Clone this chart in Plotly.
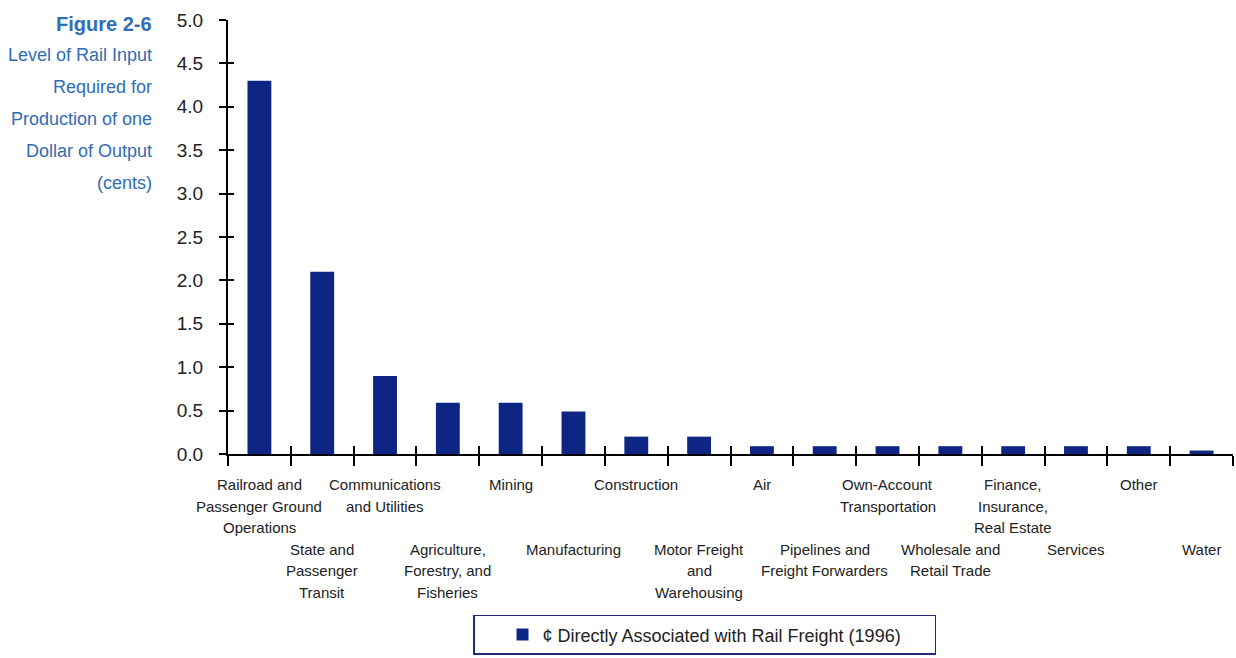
import plotly.graph_objects as go

# Sector labels (line breaks as printed under the axis)
categories = [
    "Railroad and\nPassenger Ground\nOperations",
    "State and\nPassenger\nTransit",
    "Communications\nand Utilities",
    "Agriculture,\nForestry, and\nFisheries",
    "Mining",
    "Manufacturing",
    "Construction",
    "Motor Freight\nand\nWarehousing",
    "Air",
    "Pipelines and\nFreight Forwarders",
    "Own-Account\nTransportation",
    "Wholesale and\nRetail Trade",
    "Finance,\nInsurance,\nReal Estate",
    "Services",
    "Other",
    "Water",
]
# Cents of rail input per dollar of output (1996)
cents = [4.3, 2.1, 0.9, 0.59, 0.59, 0.49, 0.2, 0.2,
         0.09, 0.09, 0.09, 0.09, 0.09, 0.09, 0.09, 0.04]
y_ticks = [0.0, 0.5, 1.0, 1.5, 2.0, 2.5, 3.0, 3.5, 4.0, 4.5, 5.0]
series_name = "¢ Directly Associated with Rail Freight (1996)"
title_lines = ["Level of Rail Input", "Required for", "Production of one",
               "Dollar of Output", "(cents)"]
figure_label = "Figure 2-6"

W, H = 1236, 658
M_L, M_R, M_T, M_B = 228, 3, 20, 201
PLOT_H = H - M_T - M_B
PLOT_W = W - M_L - M_R

BAR_COLOR = "#0f2583"
TITLE_BLUE = "#2f6db5"
TEXT = "#222222"
SANS = "Liberation Sans, Arial, sans-serif"


def paper_y(py):
    return (H - M_B - py) / PLOT_H


def paper_x(px):
    return (px - M_L) / PLOT_W


n = len(categories)
idx = list(range(n))
short = [c.replace("\n", " ") for c in categories]

fig = go.Figure()
fig.add_trace(go.Bar(
    x=short, y=cents, name=series_name,
    marker=dict(color=BAR_COLOR, line=dict(width=0)),
    showlegend=True,
))
# companion trace that carries the inner tick marks of the overlay axes
fig.add_trace(go.Scatter(
    x=idx, y=cents, xaxis="x2", yaxis="y2", mode="markers",
    marker=dict(opacity=0), showlegend=False, hoverinfo="skip",
))

annotations = []
# Category labels in two staggered rows
for i, label in enumerate(categories):
    first = 488 if i % 2 == 0 else 553
    for j, line in enumerate(label.split("\n")):
        annotations.append(dict(
            x=i, xref="x2", y=paper_y(first + j * 21.5), yref="paper",
            text=line, showarrow=False, xanchor="center", yanchor="middle",
            font=dict(family=SANS, size=15, color=TEXT),
        ))

# Figure caption on the left
annotations.append(dict(
    x=paper_x(154), xref="paper", y=paper_y(24), yref="paper",
    text="<b>%s</b>" % figure_label, showarrow=False,
    xanchor="right", yanchor="middle",
    font=dict(family=SANS, size=20, color=TITLE_BLUE),
))
for k, line in enumerate(title_lines):
    annotations.append(dict(
        x=paper_x(154), xref="paper", y=paper_y(55 + k * 32.3), yref="paper",
        text=line, showarrow=False, xanchor="right", yanchor="middle",
        font=dict(family=SANS, size=18, color=TITLE_BLUE),
    ))

fig.update_layout(
    width=W, height=H,
    margin=dict(l=M_L, r=M_R, t=M_T, b=M_B, pad=0),
    paper_bgcolor="white", plot_bgcolor="white",
    bargap=0.62,
    xaxis=dict(
        type="category", range=[-0.5, n - 0.5],
        showline=True, linecolor="black", linewidth=2,
        ticks="outside", tickson="boundaries", ticklen=10,
        tickwidth=2, tickcolor="black",
        showticklabels=False, showgrid=False, zeroline=False,
    ),
    xaxis2=dict(
        overlaying="x", anchor="y", range=[-0.5, n - 0.5],
        tickvals=[i - 0.5 for i in range(n + 1)],
        ticks="inside", ticklen=8, tickwidth=2, tickcolor="black",
        showticklabels=False, showgrid=False, zeroline=False, showline=False,
    ),
    yaxis=dict(
        range=[0, 5], tickvals=y_ticks, tickformat=".1f",
        showline=True, linecolor="black", linewidth=2,
        ticks="outside", ticklen=7, tickwidth=2, tickcolor="black",
        ticklabelstandoff=12,
        tickfont=dict(family=SANS, size=19, color=TEXT),
        showgrid=False, zeroline=False,
    ),
    yaxis2=dict(
        overlaying="y", anchor="x", side="left", range=[0, 5],
        tickvals=y_ticks, ticks="inside", ticklen=6, tickwidth=2,
        tickcolor="black", showticklabels=False, showgrid=False,
        zeroline=False, showline=False,
    ),
    legend=dict(
        orientation="h", x=paper_x(473), xanchor="left",
        y=paper_y(619), yanchor="top",
        bordercolor="#1f2a78", borderwidth=1.5, bgcolor="white",
        font=dict(family=SANS, size=18, color=TEXT),
        entrywidth=387, indentation=28,
    ),
    annotations=annotations,
    showlegend=True,
)

fig.write_html("out.html")
